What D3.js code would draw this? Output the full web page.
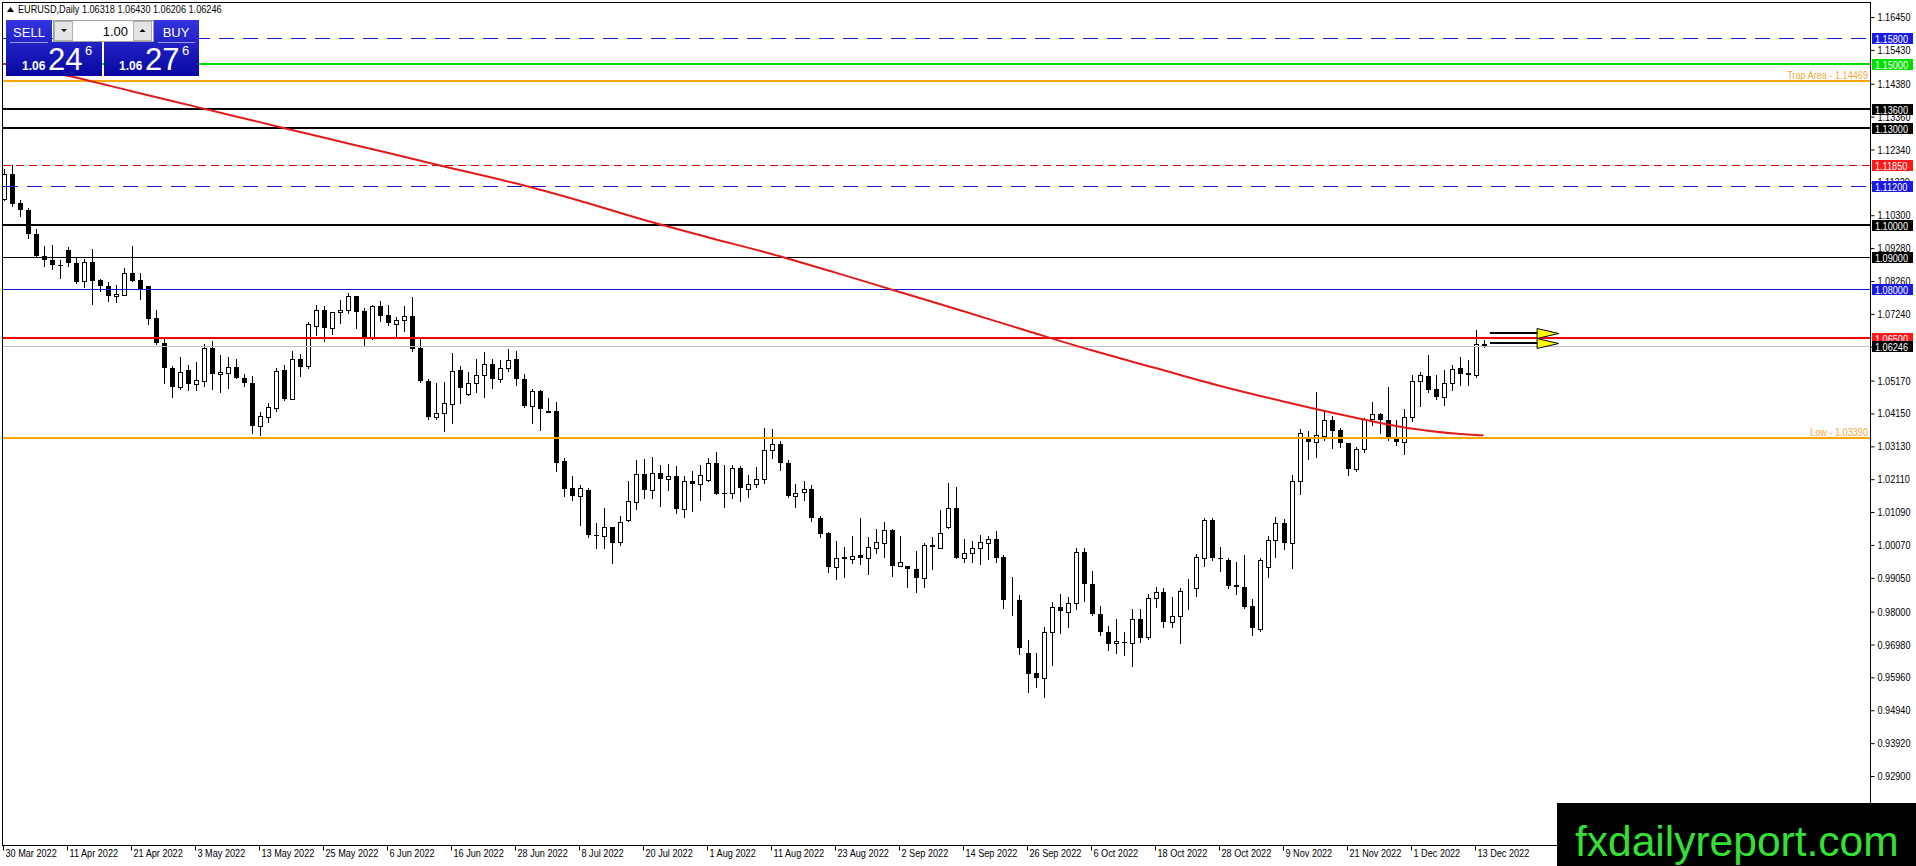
<!DOCTYPE html>
<html>
<head>
<meta charset="utf-8">
<script src="https://cdn.jsdelivr.net/npm/d3@7"></script>
<style>
  html, body { margin: 0; padding: 0; background: #fff; overflow: hidden; }
  svg { display: block; }
  text { font-family: "Liberation Sans", Arial, sans-serif; }
</style>
</head>
<body>
<div id="chart"></div>
<script>
// EURUSD daily, 30 Mar 2022 .. 14 Dec 2022 (bar index 0..185)
const opens = [
  1.1081, 1.1157, 1.1068, 1.1045, 1.0972, 1.0904, 1.0892, 1.0877, 1.0921, 1.0883,
  1.0825, 1.0886, 1.0828, 1.0809, 1.0779, 1.0784, 1.0851, 1.0830, 1.0809, 1.0711,
  1.0633, 1.0556, 1.0496, 1.0549, 1.0506, 1.0516, 1.0618, 1.0537, 1.0540, 1.0558,
  1.0525, 1.0510, 1.0377, 1.0405, 1.0433, 1.0549, 1.0460, 1.0584, 1.0563, 1.0687,
  1.0736, 1.0681, 1.0729, 1.0735, 1.0779, 1.0733, 1.0653, 1.0748, 1.0720, 1.0694,
  1.0704, 1.0717, 1.0617, 1.0516, 1.0405, 1.0416, 1.0443, 1.0549, 1.0475, 1.0511,
  1.0534, 1.0567, 1.0522, 1.0555, 1.0584, 1.0522, 1.0439, 1.0485, 1.0421, 1.0423,
  1.0266, 1.0183, 1.0160, 1.0178, 1.0039, 1.0036, 1.0062, 1.0015, 1.0083, 1.0141,
  1.0227, 1.0179, 1.0230, 1.0211, 1.0220, 1.0117, 1.0206, 1.0195, 1.0210, 1.0261,
  1.0167, 1.0169, 1.0247, 1.0180, 1.0195, 1.0211, 1.0302, 1.0319, 1.0260, 1.0160,
  1.0170, 1.0180, 1.0090, 1.0043, 0.9940, 0.9969, 0.9963, 0.9976, 0.9966, 0.9997,
  1.0012, 1.0052, 0.9943, 0.9943, 0.9931, 0.9904, 1.0007, 0.9999, 1.0064, 1.0121,
  0.9966, 0.9981, 0.9999, 1.0012, 1.0025, 0.9971, 0.9835, 0.9836, 0.9673, 0.9611,
  0.9593, 0.9736, 0.9814, 0.9798, 0.9826, 0.9984, 0.9885, 0.9793, 0.9737, 0.9702,
  0.9706, 0.9702, 0.9776, 0.9722, 0.9841, 0.9860, 0.9769, 0.9785, 0.9873, 0.9872,
  0.9965, 1.0084, 0.9966, 0.9960, 0.9883, 0.9878, 0.9818, 0.9745, 0.9940, 1.0023,
  1.0076, 1.0012, 1.0206, 1.0338, 1.0325, 1.0346, 1.0395, 1.0364, 1.0322, 1.0242,
  1.0304, 1.0397, 1.0412, 1.0395, 1.0338, 1.0327, 1.0405, 1.0517, 1.0531, 1.0490,
  1.0465, 1.0508, 1.0555, 1.0542, 1.0534, 1.06318
];
const highs = [
  1.1172, 1.1185, 1.1076, 1.1053, 1.0988, 1.0936, 1.0939, 1.0890, 1.0933, 1.0900,
  1.0894, 1.0924, 1.0831, 1.0822, 1.0814, 1.0867, 1.0936, 1.0852, 1.0810, 1.0736,
  1.0645, 1.0563, 1.0591, 1.0566, 1.0575, 1.0632, 1.0641, 1.0596, 1.0589, 1.0584,
  1.0537, 1.0530, 1.0421, 1.0447, 1.0555, 1.0565, 1.0609, 1.0599, 1.0700, 1.0751,
  1.0749, 1.0731, 1.0767, 1.0788, 1.0779, 1.0741, 1.0751, 1.0764, 1.0751, 1.0715,
  1.0748, 1.0776, 1.0645, 1.0522, 1.0509, 1.0512, 1.0602, 1.0562, 1.0545, 1.0583,
  1.0605, 1.0583, 1.0580, 1.0615, 1.0609, 1.0537, 1.0491, 1.0488, 1.0464, 1.0452,
  1.0276, 1.0221, 1.0193, 1.0183, 1.0074, 1.0121, 1.0062, 1.0098, 1.0204, 1.0271,
  1.0273, 1.0279, 1.0255, 1.0257, 1.0252, 1.0221, 1.0237, 1.0255, 1.0278, 1.0294,
  1.0255, 1.0255, 1.0253, 1.0224, 1.0248, 1.0369, 1.0367, 1.0330, 1.0271, 1.0195,
  1.0206, 1.0193, 1.0097, 1.0046, 1.0019, 1.0002, 1.0035, 1.0090, 1.0031, 1.0057,
  1.0079, 1.0055, 1.0036, 0.9943, 0.9988, 1.0014, 1.0033, 1.0116, 1.0198, 1.0188,
  1.0025, 1.0019, 1.0038, 1.0036, 1.0051, 0.9976, 0.9909, 0.9852, 0.9712, 0.9673,
  0.9751, 0.9831, 0.9855, 0.9844, 0.9999, 0.9997, 0.9926, 0.9818, 0.9756, 0.9776,
  0.9736, 0.9807, 0.9807, 0.9854, 0.9875, 0.9872, 0.9844, 0.9872, 0.9901, 0.9978,
  1.0090, 1.0092, 1.0000, 0.9966, 0.9953, 0.9976, 0.9838, 0.9966, 1.0035, 1.0095,
  1.0089, 1.0224, 1.0366, 1.0359, 1.0482, 1.0426, 1.0407, 1.0369, 1.0324, 1.0310,
  1.0400, 1.0451, 1.0417, 1.0498, 1.0395, 1.0428, 1.0534, 1.0545, 1.0596, 1.0534,
  1.0550, 1.0565, 1.0589, 1.0581, 1.0674, 1.06430
];
const lows = [
  1.1077, 1.1058, 1.1029, 1.0959, 1.0900, 1.0874, 1.0863, 1.0836, 1.0873, 1.0821,
  1.0808, 1.0755, 1.0796, 1.0765, 1.0760, 1.0783, 1.0825, 1.0769, 1.0693, 1.0632,
  1.0511, 1.0466, 1.0490, 1.0487, 1.0489, 1.0500, 1.0490, 1.0480, 1.0494, 1.0524,
  1.0500, 1.0353, 1.0348, 1.0390, 1.0423, 1.0457, 1.0460, 1.0532, 1.0557, 1.0658,
  1.0641, 1.0661, 1.0697, 1.0726, 1.0679, 1.0625, 1.0645, 1.0702, 1.0689, 1.0655,
  1.0672, 1.0610, 1.0514, 1.0398, 1.0398, 1.0359, 1.0384, 1.0447, 1.0472, 1.0481,
  1.0467, 1.0493, 1.0512, 1.0547, 1.0503, 1.0436, 1.0384, 1.0364, 1.0419, 1.0235,
  1.0160, 1.0145, 1.0069, 1.0033, 0.9999, 0.9999, 0.9950, 1.0007, 1.0080, 1.0119,
  1.0152, 1.0152, 1.0129, 1.0178, 1.0107, 1.0095, 1.0113, 1.0145, 1.0204, 1.0164,
  1.0124, 1.0152, 1.0142, 1.0157, 1.0188, 1.0200, 1.0276, 1.0240, 1.0157, 1.0124,
  1.0145, 1.0081, 1.0033, 0.9924, 0.9901, 0.9909, 0.9950, 0.9947, 0.9916, 0.9981,
  0.9971, 0.9912, 0.9943, 0.9878, 0.9862, 0.9875, 0.9931, 0.9997, 1.0059, 0.9966,
  0.9955, 0.9955, 0.9947, 0.9964, 0.9955, 0.9812, 0.9790, 0.9668, 0.9552, 0.9567,
  0.9536, 0.9635, 0.9735, 0.9753, 0.9808, 0.9834, 0.9790, 0.9726, 0.9681, 0.9673,
  0.9666, 0.9631, 0.9707, 0.9715, 0.9813, 0.9753, 0.9753, 0.9704, 0.9807, 0.9850,
  0.9942, 0.9960, 0.9927, 0.9872, 0.9854, 0.9812, 0.9728, 0.9741, 0.9907, 0.9970,
  0.9993, 0.9934, 1.0165, 1.0273, 1.0281, 1.0333, 1.0307, 1.0312, 1.0224, 1.0237,
  1.0296, 1.0379, 1.0355, 1.0333, 1.0317, 1.0289, 1.0393, 1.0438, 1.0480, 1.0461,
  1.0441, 1.0488, 1.0503, 1.0503, 1.0527, 1.06206
];
const closes = [
  1.1157, 1.1066, 1.1047, 1.0972, 1.0902, 1.0892, 1.0876, 1.0875, 1.0881, 1.0823,
  1.0886, 1.0825, 1.0810, 1.0780, 1.0787, 1.0851, 1.0827, 1.0798, 1.0707, 1.0633,
  1.0556, 1.0496, 1.0544, 1.0506, 1.0518, 1.0618, 1.0537, 1.0544, 1.0558, 1.0524,
  1.0508, 1.0377, 1.0408, 1.0434, 1.0548, 1.0460, 1.0583, 1.0560, 1.0691, 1.0736,
  1.0679, 1.0729, 1.0736, 1.0778, 1.0731, 1.0653, 1.0748, 1.0718, 1.0695, 1.0704,
  1.0716, 1.0615, 1.0516, 1.0405, 1.0416, 1.0447, 1.0548, 1.0495, 1.0509, 1.0534,
  1.0567, 1.0522, 1.0555, 1.0581, 1.0521, 1.0438, 1.0485, 1.0428, 1.0422, 1.0262,
  1.0181, 1.0160, 1.0185, 1.0038, 1.0038, 1.0062, 1.0014, 1.0077, 1.0144, 1.0226,
  1.0178, 1.0230, 1.0212, 1.0220, 1.0117, 1.0206, 1.0195, 1.0224, 1.0261, 1.0164,
  1.0164, 1.0245, 1.0183, 1.0196, 1.0211, 1.0302, 1.0319, 1.0260, 1.0160, 1.0169,
  1.0180, 1.0090, 1.0040, 0.9940, 0.9968, 0.9963, 0.9972, 0.9966, 1.0000, 1.0015,
  1.0052, 0.9943, 0.9953, 0.9931, 0.9904, 1.0007, 1.0000, 1.0043, 1.0121, 0.9966,
  0.9981, 0.9997, 1.0015, 1.0025, 0.9968, 0.9836, 0.9836, 0.9688, 0.9608, 0.9593,
  0.9738, 0.9813, 0.9802, 0.9826, 0.9984, 0.9885, 0.9792, 0.9738, 0.9701, 0.9709,
  0.9702, 0.9776, 0.9719, 0.9841, 0.9860, 0.9769, 0.9786, 0.9863, 0.9874, 0.9969,
  1.0084, 0.9965, 0.9965, 0.9881, 0.9876, 0.9815, 0.9748, 0.9960, 1.0023, 1.0074,
  1.0012, 1.0206, 1.0353, 1.0325, 1.0348, 1.0395, 1.0362, 1.0324, 1.0242, 1.0304,
  1.0397, 1.0412, 1.0395, 1.0343, 1.0327, 1.0405, 1.0517, 1.0534, 1.0488, 1.0465,
  1.0508, 1.0552, 1.0537, 1.0534, 1.0632, 1.06246
];

// moving average read at every date label (bar index -> value)
const maBars   = [0, 8, 16, 24, 32, 40, 48, 56, 64, 72, 80, 88, 96, 104, 112, 120, 128, 136, 144, 152, 160, 168, 176, 184, 185];
const maValues = [1.1500, 1.1463, 1.1415, 1.1367, 1.1319, 1.1271, 1.1224, 1.1176, 1.1129, 1.1075, 1.1016, 1.0962,
                  1.0910, 1.0852, 1.0792, 1.0732, 1.0671, 1.0611, 1.0556, 1.0501, 1.0452, 1.0407, 1.0368, 1.0348, 1.0347];

const dateLabels = ["30 Mar 2022", "11 Apr 2022", "21 Apr 2022", "3 May 2022", "13 May 2022", "25 May 2022",
                    "6 Jun 2022", "16 Jun 2022", "28 Jun 2022", "8 Jul 2022", "20 Jul 2022", "1 Aug 2022",
                    "11 Aug 2022", "23 Aug 2022", "2 Sep 2022", "14 Sep 2022", "26 Sep 2022", "6 Oct 2022",
                    "18 Oct 2022", "28 Oct 2022", "9 Nov 2022", "21 Nov 2022", "1 Dec 2022", "13 Dec 2022"];

const priceTicks = [1.16450, 1.15430, 1.14380, 1.13360, 1.12340, 1.11320, 1.10300, 1.09280, 1.08260, 1.07240,
                    1.06220, 1.05170, 1.04150, 1.03130, 1.02110, 1.01090, 1.00070, 0.99050, 0.98000, 0.96980,
                    0.95960, 0.94940, 0.93920, 0.92900];

// horizontal levels drawn on the chart
const levelPrices = [1.1580, 1.1500, 1.14469, 1.1360, 1.1300, 1.1185, 1.1120, 1.1000, 1.0900, 1.0800, 1.0650, 1.0339];
const levelNames  = ["", "", "Trap Area - 1.14469", "", "", "", "", "", "", "", "", "Low - 1.03390"];
const bidPrice = 1.06246;
const arrowPrices = [1.0665, 1.0635];
const header = "EURUSD,Daily  1.06318 1.06430 1.06206 1.06246";

// ---------------------------------------------------------------
const width = 1916, height = 866;
const plotLeft = 3, plotRight = 1870, plotTop = 3, plotBottom = 845;

// MT4 uses a narrow font; squeeze Liberation Sans to match
const narrow = sel => sel.each(function () {
  const len = this.getComputedTextLength();
  d3.select(this).attr("textLength", len * 0.83).attr("lengthAdjust", "spacingAndGlyphs");
});

const svg = d3.select("#chart").append("svg")
    .attr("width", width)
    .attr("height", height)
    .attr("viewBox", `0 0 ${width} ${height}`);

svg.append("defs").append("clipPath").attr("id", "plot-clip")
  .append("rect")
    .attr("x", plotLeft).attr("y", plotTop)
    .attr("width", plotRight - plotLeft).attr("height", plotBottom - plotTop);

// Scales: 8px per bar, linear price axis
const x = d3.scaleLinear().domain([0, 185]).range([3.5, 1483.5]);
const y = d3.scaleLinear().domain([0.929, 1.158]).range([776, 38]);

const plot = svg.append("g").attr("clip-path", "url(#plot-clip)");

// Candles
const bars = opens.map((o, i) => ({ i, o, h: highs[i], l: lows[i], c: closes[i] }));
const px = d => Math.round(x(d.i));

const candles = plot.append("g").attr("class", "candles").attr("shape-rendering", "crispEdges");
candles.selectAll("line")
  .data(bars)
  .join("line")
    .attr("x1", d => px(d) + 0.5).attr("x2", d => px(d) + 0.5)
    .attr("y1", d => Math.round(y(d.h)))
    .attr("y2", d => Math.round(y(d.l)) + 1)
    .attr("stroke", "#000");

candles.selectAll("rect")
  .data(bars)
  .join("rect")
    .attr("x", d => d.c >= d.o ? px(d) - 2 + 0.5 : px(d) - 2)
    .attr("width", d => d.c >= d.o ? 4 : 5)
    .attr("y", d => Math.round(y(Math.max(d.o, d.c))) + (d.c >= d.o ? 0.5 : 0))
    .attr("height", d => {
      const hgt = Math.round(y(Math.min(d.o, d.c))) - Math.round(y(Math.max(d.o, d.c)));
      return d.c >= d.o ? hgt : Math.max(hgt, 1);
    })
    .attr("fill", d => d.c >= d.o ? "#fff" : "#000")
    .attr("stroke", d => d.c >= d.o ? "#000" : "none");

// Level lines
const levelStyle = [
  { color: "#1414c8", w: 1, dash: "15,9", box: "#1a1ae6" },
  { color: "#00e000", w: 2, dash: null,   box: "#00e000" },
  { color: "#ffa500", w: 2, dash: null,   box: null },
  { color: "#000",    w: 2, dash: null,   box: "#000" },
  { color: "#000",    w: 2, dash: null,   box: "#000" },
  { color: "#e00000", w: 1, dash: "8,5",  box: "#ff1a1a" },
  { color: "#1414c8", w: 1, dash: "15,9", box: "#1a1ae6" },
  { color: "#000",    w: 2, dash: null,   box: "#000" },
  { color: "#000",    w: 1, dash: null,   box: "#000" },
  { color: "#1414c8", w: 1, dash: null,   box: "#1a1ae6" },
  { color: "#ff0000", w: 2, dash: null,   box: "#ff1a1a" },
  { color: "#ffa500", w: 2, dash: null,   box: null }
];

const crisp = (v, w) => w % 2 === 1 ? Math.round(v) + 0.5 : Math.round(v);

plot.append("line")
    .attr("x1", plotLeft).attr("x2", plotRight)
    .attr("y1", crisp(y(bidPrice), 1)).attr("y2", crisp(y(bidPrice), 1))
    .attr("stroke", "#c0c0c0").attr("stroke-width", 1);

plot.append("g").attr("class", "levels")
  .selectAll("line")
  .data(levelPrices)
  .join("line")
    .attr("x1", plotLeft).attr("x2", plotRight)
    .attr("y1", (d, i) => crisp(y(d), levelStyle[i].w))
    .attr("y2", (d, i) => crisp(y(d), levelStyle[i].w))
    .attr("stroke", (d, i) => levelStyle[i].color)
    .attr("stroke-width", (d, i) => levelStyle[i].w)
    .attr("stroke-dasharray", (d, i) => levelStyle[i].dash);

// level descriptions (Trap Area / Low)
svg.append("g")
  .selectAll("text")
  .data(levelPrices.map((p, i) => ({ p, name: levelNames[i] })).filter(d => d.name))
  .join("text")
    .attr("x", plotRight - 2)
    .attr("y", d => Math.round(y(d.p)) - 2)
    .attr("text-anchor", "end")
    .attr("font-size", 11)
    .attr("fill", "#f2a93b")
    .text(d => d.name)
    .call(narrow);

// Moving average
const maLine = d3.line()
    .x(d => x(d[0]))
    .y(d => y(d[1]))
    .curve(d3.curveMonotoneX);
plot.append("path")
    .datum(maBars.map((b, i) => [b, maValues[i]]))
    .attr("d", maLine)
    .attr("fill", "none")
    .attr("stroke", "#e21a1a")
    .attr("stroke-width", 2);

// Arrows pointing right at the last bars
const arrowStart = 185.8, arrowBase = 191.7, arrowTip = 194.4;
const arrows = plot.append("g").attr("class", "arrows");
arrows.selectAll("line")
  .data(arrowPrices)
  .join("line")
    .attr("x1", x(arrowStart)).attr("x2", x(arrowBase))
    .attr("y1", d => Math.round(y(d))).attr("y2", d => Math.round(y(d)))
    .attr("stroke", "#000").attr("stroke-width", 2);
arrows.selectAll("path")
  .data(arrowPrices)
  .join("path")
    .attr("d", d => {
      const yy = Math.round(y(d)) + 0.5;
      return `M${x(arrowBase)},${yy - 5}L${x(arrowTip)},${yy}L${x(arrowBase)},${yy + 5}Z`;
    })
    .attr("fill", "#ffff00")
    .attr("stroke", "#000")
    .attr("stroke-width", 1);

// Frame
svg.append("rect")
    .attr("x", plotLeft - 0.5).attr("y", plotTop - 0.5)
    .attr("width", plotRight - plotLeft + 1).attr("height", plotBottom - plotTop + 1)
    .attr("fill", "none").attr("stroke", "#000").attr("shape-rendering", "crispEdges");

// Price axis
const yAxis = svg.append("g")
    .attr("transform", `translate(${plotRight + 0.5},0)`)
    .call(d3.axisRight(y).tickValues(priceTicks).tickFormat(d3.format(".5f")).tickSize(4).tickPadding(3));
yAxis.select(".domain").remove();
yAxis.attr("font-family", null);
yAxis.selectAll("text").attr("font-size", 11).attr("fill", "#000").call(narrow);

// Date axis
const labelBars = dateLabels.map((_, i) => i * 8);
const xAxis = svg.append("g")
    .attr("transform", `translate(-0.5,${plotBottom + 0.5})`)
    .call(d3.axisBottom(x).tickValues(labelBars).tickFormat((d, i) => dateLabels[i]).tickSize(5));
xAxis.select(".domain").remove();
xAxis.attr("font-family", null);
xAxis.selectAll("text")
    .attr("font-size", 11).attr("fill", "#000")
    .attr("text-anchor", "start").attr("x", 2).attr("y", 11).attr("dy", 0)
    .call(narrow);

// Price labels on the right
const boxes = levelPrices.map((p, i) => ({ p, box: levelStyle[i].box, txt: p.toFixed(5) }))
    .filter(d => d.box)
    .concat([{ p: bidPrice, box: "#000", txt: bidPrice.toFixed(5) }]);
const lab = svg.append("g").selectAll("g").data(boxes).join("g")
    .attr("transform", d => `translate(${plotRight + 2},${Math.round(y(d.p))})`);
lab.append("rect")
    .attr("x", 0).attr("y", -5).attr("width", 41).attr("height", 11)
    .attr("fill", d => d.box);
lab.append("text")
    .attr("x", 3).attr("y", 4.5)
    .attr("font-size", 11).attr("fill", "#fff")
    .text(d => d.txt)
    .call(narrow);

// Header
svg.append("path")
    .attr("d", "M7,12L10.5,7L14,12Z").attr("fill", "#000");
svg.append("text")
    .attr("x", 18).attr("y", 13)
    .attr("font-size", 11).attr("fill", "#000")
    .text(header)
    .call(narrow);

// One-click trading panel
const grad = svg.select("defs").append("linearGradient")
    .attr("id", "panel-grad").attr("x1", 0).attr("y1", 0).attr("x2", 0).attr("y2", 1);
grad.append("stop").attr("offset", "0%").attr("stop-color", "#3434e0");
grad.append("stop").attr("offset", "100%").attr("stop-color", "#0707a0");

const panel = svg.append("g").attr("class", "panel");
panel.append("path")
    .attr("d", "M6,20H52V42H102V76H6Z").attr("fill", "url(#panel-grad)");
panel.append("path")
    .attr("d", "M154,20H199V76H104V42H154Z").attr("fill", "url(#panel-grad)");
panel.append("line").attr("x1", 10).attr("x2", 48).attr("y1", 42.5).attr("y2", 42.5).attr("stroke", "#9a9aff");
panel.append("line").attr("x1", 158).attr("x2", 195).attr("y1", 42.5).attr("y2", 42.5).attr("stroke", "#9a9aff");

panel.append("rect").attr("x", 53.5).attr("y", 20.5).attr("width", 100).attr("height", 21)
    .attr("fill", "#fff").attr("stroke", "#a0a0a0");
panel.append("rect").attr("x", 54.5).attr("y", 21.5).attr("width", 18).attr("height", 19)
    .attr("fill", "#e4e4e4").attr("stroke", "#b0b0b0");
panel.append("rect").attr("x", 133.5).attr("y", 21.5).attr("width", 18).attr("height", 19)
    .attr("fill", "#e4e4e4").attr("stroke", "#b0b0b0");
panel.append("path").attr("d", "M61,29H67L64,32Z").attr("fill", "#000");
panel.append("path").attr("d", "M139.5,32H145.5L142.5,29Z").attr("fill", "#000");
panel.append("text").attr("x", 128).attr("y", 36).attr("text-anchor", "end")
    .attr("font-size", 13).attr("fill", "#000").text("1.00");

panel.append("text").attr("x", 29).attr("y", 37).attr("text-anchor", "middle")
    .attr("font-size", 13).attr("fill", "#fff").text("SELL");
panel.append("text").attr("x", 176).attr("y", 37).attr("text-anchor", "middle")
    .attr("font-size", 13).attr("fill", "#fff").text("BUY");

const quotes = [
  { x0: 22, big: "24", small: "6" },
  { x0: 119, big: "27", small: "6" }
];
quotes.forEach(q => {
  panel.append("text").attr("x", q.x0).attr("y", 70).attr("font-size", 12)
      .attr("font-weight", "bold").attr("fill", "#fff").text("1.06");
  panel.append("text").attr("x", q.x0 + 26).attr("y", 70).attr("font-size", 31)
      .attr("fill", "#fff").text(q.big);
  panel.append("text").attr("x", q.x0 + 63).attr("y", 55).attr("font-size", 13)
      .attr("fill", "#fff").text(q.small);
});

// Watermark
svg.append("rect").attr("x", 1557).attr("y", 803).attr("width", 359).attr("height", 63).attr("fill", "#000");
svg.append("text")
    .attr("x", 1575).attr("y", 856)
    .attr("font-size", 42.5)
    .attr("fill", "#35e035")
    .text("fxdailyreport.com");
</script>
</body>
</html>
